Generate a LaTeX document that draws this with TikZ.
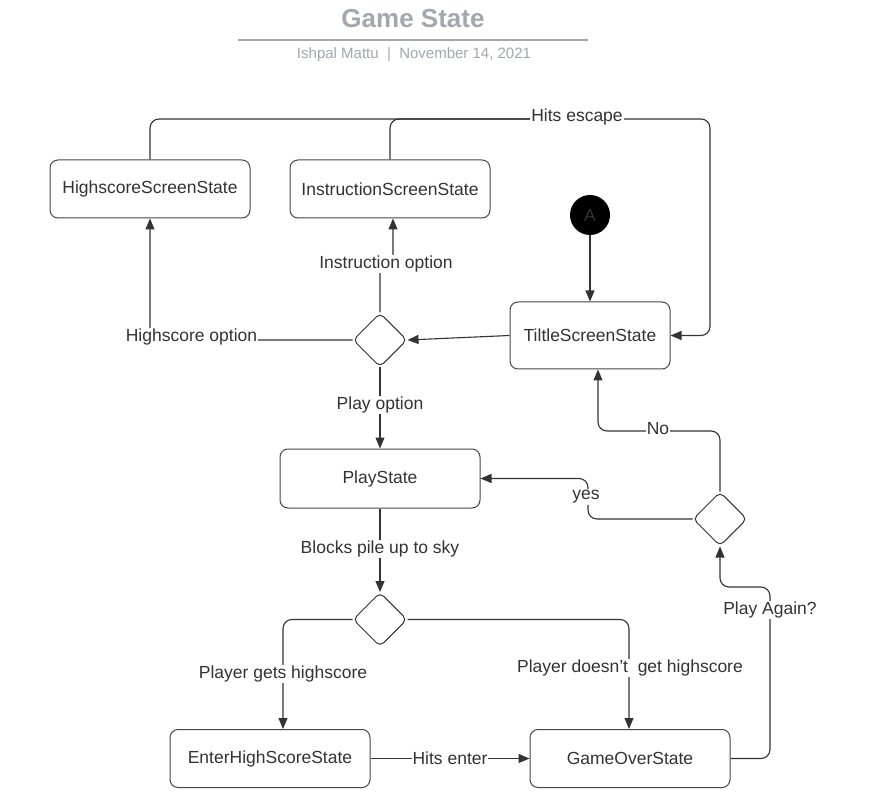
\documentclass[tikz,border=0pt]{standalone}
\usepackage{fontspec}
\setmainfont{Liberation Sans}
\usetikzlibrary{arrows.meta,shapes.geometric}
\definecolor{ink}{HTML}{333333}
\definecolor{ttl}{HTML}{A3A7AE}
\begin{document}
\begin{tikzpicture}[x=1pt,y=-1pt,
  statebox/.style={draw=ink!90, line width=1pt, rounded corners=8pt, minimum width=200pt, minimum height=58pt, inner sep=0pt, font=\fontsize{17.5}{20}\selectfont, text=ink},
  choice/.style={draw=ink, line width=1pt, diamond, rounded corners=5pt, minimum width=54pt, minimum height=54pt, inner sep=0pt},
  conn/.style={draw=ink, line width=1.1pt, rounded corners=9pt},
  arr/.style={conn, -{Triangle[length=11pt,width=9pt]}},
  lbl/.style={fill=white, inner sep=1pt, font=\fontsize{17.5}{20}\selectfont, text=ink},
]
\useasboundingbox[fill=white] (0,0) rectangle (876,802);

% header
\node[font=\fontsize{26}{30}\selectfont\bfseries, text=ttl] (head) at (413,19) {Game State};
\coordinate (rl) at (238,40);
\coordinate (rr) at (588,40);
\draw[ttl, line width=2pt] (rl) -- (rr);
\node[font=\fontsize{15}{18}\selectfont, text=ttl] (sub) at (414,55) {Ishpal Mattu\ \ |\ \ November 14, 2021};

% nodes
\node[statebox] (hs) at (150,189) {HighscoreScreenState};
\node[statebox] (ins) at (390,189) {InstructionScreenState};
\node[circle, fill=black, minimum size=40pt, inner sep=0pt, text=ink, font=\fontsize{17.5}{20}\selectfont] (A) at (590,215) {A};
\node[statebox, minimum width=160pt, minimum height=67pt] (title) at (590,335.5) {TiltleScreenState};
\node[choice] (d1) at (380,340) {};
\node[statebox, minimum height=59pt] (play) at (380,478.5) {PlayState};
\node[choice] (d2) at (380,619.5) {};
\node[choice] (d3) at (720,519) {};
\node[statebox] (ehs) at (270,758.5) {EnterHighScoreState};
\node[statebox] (go) at (630,758.5) {GameOverState};

% connectors
\coordinate (esc) at (710,119);
\coordinate (escm) at (560,119);
\draw[arr] (hs.north) |- (esc) |- (title.east);
\draw[conn] (ins.north) |- (escm);
\node[lbl] (lesc) at (577,117) {Hits escape};

\draw[arr] (A) -- (title.north);
\draw[arr] (title.west) -- (d1.east);

\draw[arr] (d1.west) -| (hs.south);
\node[lbl] (lhs) at (191.5,337) {Highscore option};

\coordinate (jog) at (386,264);
\draw[arr] (d1.north) |- (jog) -| ([xshift=3pt]ins.south);
\node[lbl] (lins) at (386,264) {Instruction option};

\draw[arr] (d1.south) -- (play.north);
\node[lbl] (lplay) at (380,405) {Play option};

\draw[arr] (play.south) -- (d2.north);
\node[lbl] (lblk) at (380,549) {Blocks pile up to sky};

\draw[arr] (d2.west) -| ([xshift=13pt]ehs.north);
\node[lbl] (lgets) at (283,674) {Player gets highscore};

\draw[arr] (d2.east) -| ([xshift=-1pt]go.north);
\node[lbl] (lnot) at (630,668) {Player doesn't\ \ get highscore};

\draw[arr] (ehs.east) -- (go.west);
\node[lbl] (lent) at (450,758) {Hits enter};

\coordinate (pa) at (770,587);
\draw[arr] (go.east) -| (pa) -| (d3.south);
\node[lbl] (lpa) at (770,610) {Play Again?};

\coordinate (ys) at (588,498);
\draw[arr] (d3.west) -| (ys) |- (play.east);
\node[lbl] (lyes) at (586,497) {yes};

\coordinate (no) at (658,431);
\draw[arr] (d3.north) |- (no) -| ([xshift=8pt]title.south);
\node[lbl] (lno) at (658,429) {No};
\end{tikzpicture}
\end{document}
